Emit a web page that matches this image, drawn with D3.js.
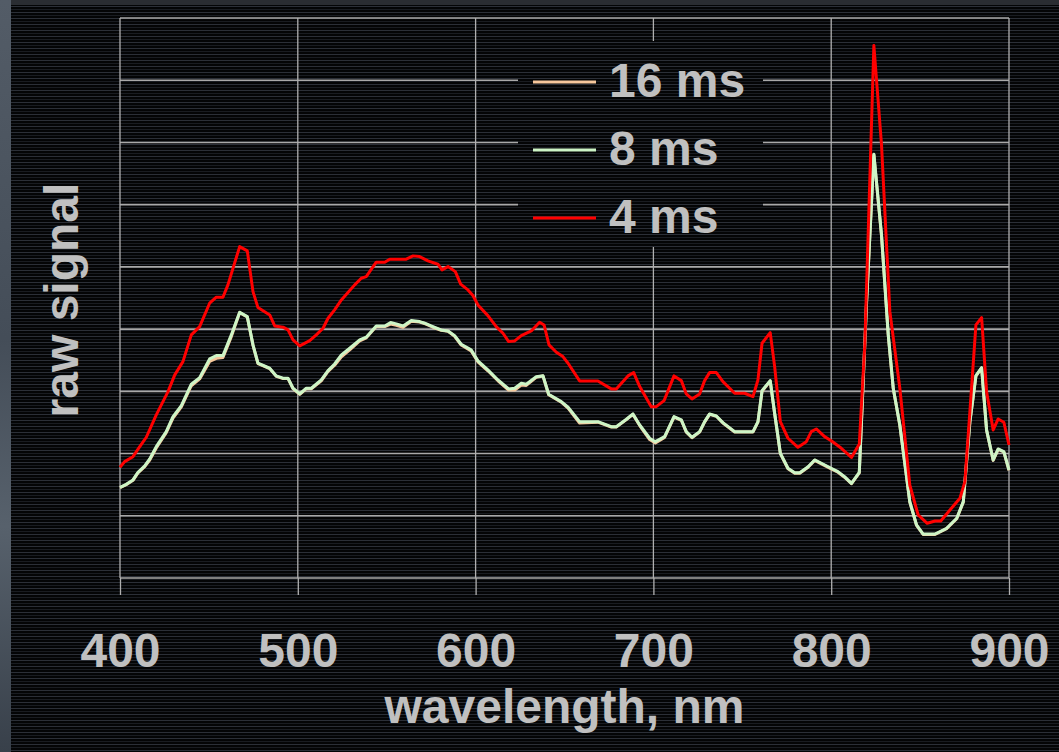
<!DOCTYPE html>
<html>
<head>
<meta charset="utf-8">
<script src="https://cdn.jsdelivr.net/npm/d3@7"></script>
<style>
	body { margin: 0; background: #050607; }
	svg { display: block; }
	text { font-family: "Liberation Sans", Arial, sans-serif; font-weight: bold; fill: #c0c0c0; }
</style>
</head>
<body>
<div id="chart"></div>
<script>
//DATA (wavelength in nm, raw counts)
var wl4 = [400,402.6,407.3,411.1,414.8,420.4,427,430.8,435.4,440.1,444.8,450.4,454.2,457.9,460.7,467.3,471.6,474.8,477.6,484.2,
	487,491.7,494.5,497.3,501.1,506.7,510.4,514.2,517,520.7,524.5,528.2,532,535.7,538.5,544.1,548.9,551.7,561,564.8,
	568.5,573.2,578.8,581.1,584.5,588.6,591.6,595.7,598.5,601.3,606.9,611.6,615.4,618.6,622,625.7,631.3,636,638.5,641.3,
	645.4,649.1,652,658.5,668.8,676.3,679.1,685.7,688.9,692.3,698.8,701.6,706,711.6,715.7,718.5,721.7,726,728.8,731.6,
	735.4,739.1,745.7,751.3,756,758.8,761.1,765.7,768.2,771.4,775.7,781.3,786,788.8,791.6,796.3,800,805.7,811.4,815.8,
	818.9,824,828.3,833,838.6,844.2,848.9,854,858.4,861.6,866.8,872.4,875.2,878,881.4,884.6,887.4,891.1,893.9,897.1,900];
var sig4 = [1780,1870,1950,2111,2262,2621,2995,3264,3477,3907,4040,4416,4513,4513,4711,5326,5257,4603,4346,4228,
	4051,4031,3987,3826,3730,3815,3907,4014,4175,4309,4469,4587,4711,4818,4844,5075,5075,5124,5124,5177,
	5166,5096,5043,4952,5005,4924,4722,4630,4539,4389,4217,4040,3934,3799,3810,3895,3971,4111,4067,3746,
	3629,3558,3452,3167,3167,3039,3039,3248,3301,3076,2754,2754,2850,3248,3172,2958,2878,2958,3172,3301,
	3301,3156,2969,2969,2915,3183,3773,3944,3397,2513,2246,2101,2191,2352,2395,2272,2207,2085,1937,2154,
	3746,8558,6961,4281,3050,1495,1013,879,916,916,1093,1281,1548,2674,4067,4185,2995,2379,2556,2503,2138];

var wl8 = [400,403.5,407.3,410.1,413.9,416.7,420.4,426,429.8,434.5,440.1,444.8,450.4,454.2,457.9,462.6,467.3,471.6,474.8,477.6,
	484.2,487.9,491.7,494.5,497.3,501.1,504.8,507.6,513.2,517,520.7,524.5,529.2,534.8,538.5,544.1,548.9,552.2,555.4,559.2,
	563.8,568.5,571.4,576,580.6,584.5,588.2,591.9,597.5,601.3,606.9,612.6,618.6,622,625.7,628.5,634.1,637.9,641.1,648.2,
	652,658.5,668.8,676.3,679.1,684.8,688.5,692.3,697.9,701.1,706.3,711.6,715.7,718.5,721.7,726,728.8,731.6,735.4,739.1,
	745.7,756,758.8,761.1,765.7,768.2,771.4,775.7,779.5,782.3,787,790.7,794.5,800,803.8,807.5,811.4,815.8,819.9,824,
	828.3,832.1,834.9,838.6,844.2,848,851.7,858.4,864.9,870.6,874.3,878,881.4,884.6,887.4,891.1,893.9,897.1,900];
var sig8 = [1458,1506,1576,1699,1801,1913,2111,2352,2593,2770,3114,3220,3521,3574,3574,3907,4272,4201,3746,3452,
	3371,3248,3211,3211,3050,2958,3050,3050,3183,3333,3440,3585,3693,3826,3870,4051,4051,4105,4084,4051,
	4137,4121,4095,4040,3987,3971,3895,3757,3666,3489,3344,3183,3039,3050,3130,3114,3236,3252,2953,2834,
	2744,2513,2513,2432,2432,2551,2637,2460,2246,2191,2272,2593,2540,2352,2262,2352,2513,2637,2604,2497,
	2352,2352,2513,3011,3172,2648,2005,1764,1693,1693,1789,1897,1844,1764,1709,1629,1522,1699,4442,6812,
	5514,3907,3050,2460,1227,852,707,707,799,960,1227,2513,3252,3381,2379,1897,2074,2031,1736];

//16 ms sits almost exactly under the 8 ms trace
var sig16 = [1450,1500,1570,1690,1790,1895,2090,2335,2570,2750,3090,3200,3480,3530,3545,3880,4265,4195,3740,3445,
	3365,3240,3205,3205,3045,2950,3045,3040,3170,3320,3420,3555,3665,3810,3860,4040,4040,4080,4060,4030,
	4125,4115,4090,4030,3980,3965,3885,3745,3650,3475,3330,3170,3020,3020,3100,3095,3225,3245,2945,2825,
	2730,2490,2505,2425,2425,2545,2630,2450,2225,2170,2260,2585,2535,2345,2255,2345,2505,2630,2600,2490,
	2345,2345,2505,3000,3165,2640,2000,1755,1685,1685,1780,1890,1835,1755,1700,1620,1515,1690,4430,6800,
	5500,3900,3045,2455,1220,845,700,700,792,952,1220,2505,3245,3375,2372,1890,2067,2025,1730];

var seriesNames = ['16 ms', '8 ms', '4 ms'];
var seriesColors = ['#f6c79c', '#cdf5c6', '#ff0000'];
var xTicks = [400, 500, 600, 700, 800, 900];
var yGrid = [0, 1000, 2000, 3000, 4000, 5000, 6000, 7000, 8000, 9000];

var series = [
	{name: seriesNames[0], color: seriesColors[0], pts: d3.zip(wl8, sig16)},
	{name: seriesNames[1], color: seriesColors[1], pts: d3.zip(wl8, sig8)},
	{name: seriesNames[2], color: seriesColors[2], pts: d3.zip(wl4, sig4)}
];

var width = 1059, height = 752;

var svg = d3.select('#chart').append('svg')
	.attr('width', width)
	.attr('height', height);

//BACKGROUND: dark screen with scan lines
var defs = svg.append('defs');
var pat = defs.append('pattern')
	.attr('id', 'scan')
	.attr('patternUnits', 'userSpaceOnUse')
	.attr('width', 8)
	.attr('height', 6);
pat.append('rect').attr('width', 8).attr('height', 6).attr('fill', '#040506');
pat.append('rect').attr('y', 0).attr('width', 8).attr('height', 1).attr('fill', '#2b2f37');
pat.append('rect').attr('y', 3).attr('width', 8).attr('height', 1).attr('fill', '#191c21');

var grad = defs.append('linearGradient')
	.attr('id', 'edge')
	.attr('x1', 0).attr('x2', 0).attr('y1', 0).attr('y2', 1);
grad.append('stop').attr('offset', '0%').attr('stop-color', '#535c67');
grad.append('stop').attr('offset', '45%').attr('stop-color', '#444d58');
grad.append('stop').attr('offset', '70%').attr('stop-color', '#57616c');
grad.append('stop').attr('offset', '100%').attr('stop-color', '#38404a');

svg.append('rect')
	.attr('width', width).attr('height', height)
	.attr('fill', 'url(#scan)');

svg.append('rect')
	.attr('width', width).attr('height', 5)
	.attr('fill', '#2a2d32');

svg.append('rect')
	.attr('width', 11).attr('height', height)
	.attr('fill', 'url(#edge)');

//SCALES
var x = d3.scaleLinear().domain([400, 900]).range([120, 1009]);
var y = d3.scaleLinear().domain([0, 9000]).range([578, 18]);

//GRID
var grid = svg.append('g').attr('class', 'grid');

grid.selectAll('line.h')
	.data(yGrid)
	.enter()
	.append('line')
	.attr('class', 'h')
	.attr('x1', x(400)).attr('x2', x(900))
	.attr('y1', function(d){ return y(d); })
	.attr('y2', function(d){ return y(d); })
	.attr('stroke', '#a9a9a9')
	.attr('stroke-width', 1.6);

grid.selectAll('line.v')
	.data(xTicks)
	.enter()
	.append('line')
	.attr('class', 'v')
	.attr('x1', function(d){ return x(d); })
	.attr('x2', function(d){ return x(d); })
	.attr('y1', y(9000)).attr('y2', y(0))
	.attr('stroke', '#b0b0b0')
	.attr('stroke-width', 1.3);

//X AXIS (ticks hang below the plot)
var xAxis = svg.append('g')
	.attr('transform', 'translate(0,' + y(0) + ')')
	.call(d3.axisBottom(x).tickValues(xTicks).tickSize(17).tickPadding(38).tickSizeOuter(0));

xAxis.select('.domain').remove();
xAxis.selectAll('line').attr('stroke', '#b0b0b0').attr('stroke-width', 1.3);
xAxis.selectAll('text')
	.attr('fill', '#c0c0c0')
	.style('font-size', '48px')
	.style('font-family', '"Liberation Sans", Arial, sans-serif')
	.style('font-weight', 'bold');

//AXIS TITLES
svg.append('text')
	.attr('x', (x(400) + x(900)) / 2)
	.attr('y', 723)
	.attr('text-anchor', 'middle')
	.style('font-size', '48px')
	.text('wavelength, nm');

svg.append('text')
	.attr('transform', 'translate(78,300) rotate(-90)')
	.attr('text-anchor', 'middle')
	.style('font-size', '48px')
	.text('raw signal');

//LEGEND box hides the grid behind it
var legend = svg.append('g');

legend.append('rect')
	.attr('x', 518).attr('y', 41)
	.attr('width', 245).attr('height', 206)
	.attr('fill', 'url(#scan)');

var items = legend.selectAll('g.item')
	.data(series)
	.enter()
	.append('g')
	.attr('class', 'item')
	.attr('transform', function(d, i){ return 'translate(0,' + (82 + i * 68) + ')'; });

items.append('line')
	.attr('x1', 533).attr('x2', 596)
	.attr('y1', 0).attr('y2', 0)
	.attr('stroke', function(d){ return d.color; })
	.attr('stroke-width', 3);

items.append('text')
	.attr('x', 609)
	.attr('y', 15)
	.style('font-size', '48px')
	.text(function(d){ return d.name; });

//LINES
var line = d3.line()
	.x(function(d){ return x(d[0]); })
	.y(function(d){ return y(d[1]); });

svg.append('g')
	.selectAll('path')
	.data(series)
	.enter()
	.append('path')
	.attr('d', function(d){ return line(d.pts); })
	.attr('fill', 'none')
	.attr('stroke', function(d){ return d.color; })
	.attr('stroke-width', 3)
	.attr('stroke-linejoin', 'round');
</script>
</body>
</html>
